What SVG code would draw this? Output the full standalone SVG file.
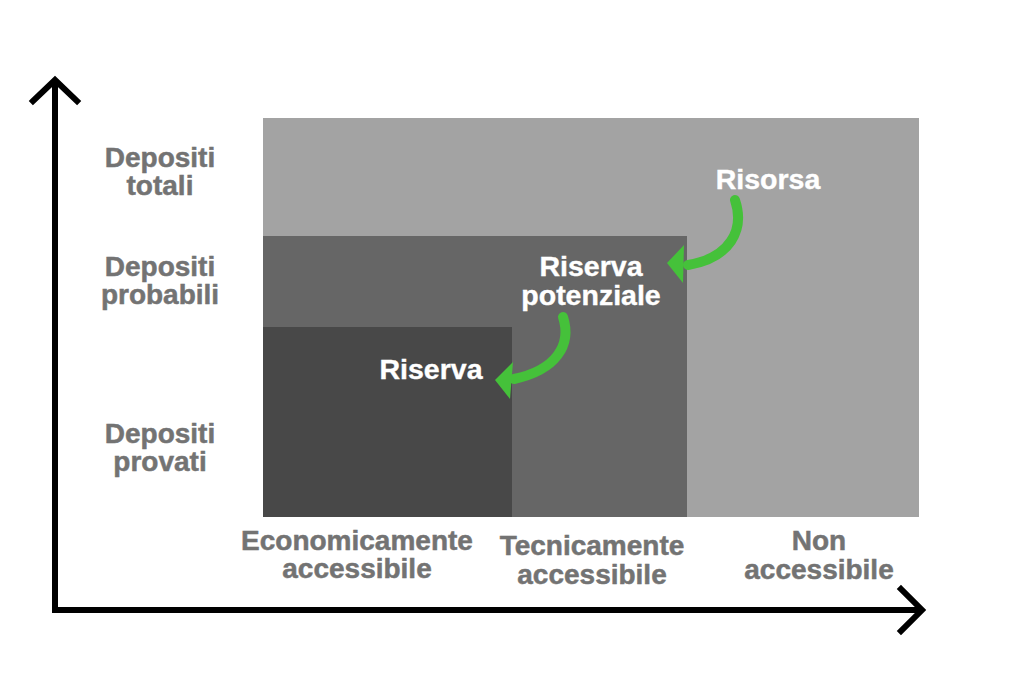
<svg xmlns="http://www.w3.org/2000/svg" width="1024" height="683" viewBox="0 0 1024 683">
<style>
.lbl{font-family:"Liberation Sans",Arial,sans-serif;font-weight:bold;font-size:28px;fill:#737373;stroke:#737373;stroke-width:0.5;text-anchor:middle}
.wl{font-family:"Liberation Sans",Arial,sans-serif;font-weight:bold;font-size:28.5px;fill:#ffffff;stroke:#ffffff;stroke-width:0.4;text-anchor:middle}
.axis{fill:none;stroke:#000;stroke-width:6;stroke-linecap:square}
.garc{fill:none;stroke:#45c13a;stroke-width:10;stroke-linecap:round}
.ghead{fill:#45c13a}
</style>
<rect width="1024" height="683" fill="#ffffff"/>
<g id="area-risorsa"><rect x="263" y="118" width="656" height="399" fill="#a3a3a3"/></g>
<g id="area-riserva-potenziale"><rect x="263" y="236" width="424" height="281" fill="#666666"/></g>
<g id="area-riserva"><rect x="263" y="327" width="249" height="190" fill="#484848"/></g>
<g id="axes">
<path class="axis" d="M55 82 V610 H920"/>
<path class="axis" d="M33 101 L55 80 L77 101"/>
<path class="axis" d="M901 589 L922 610 L901 631"/>
</g>
<g id="y-labels">
<text class="lbl" x="160" y="167">Depositi</text>
<text class="lbl" x="160" y="195">totali</text>
<text class="lbl" x="160" y="276">Depositi</text>
<text class="lbl" x="160" y="304">probabili</text>
<text class="lbl" x="160" y="443">Depositi</text>
<text class="lbl" x="160" y="471">provati</text>
</g>
<g id="x-labels">
<text class="lbl" x="357" y="550">Economicamente</text>
<text class="lbl" x="357" y="578">accessibile</text>
<text class="lbl" x="592" y="555">Tecnicamente</text>
<text class="lbl" x="592" y="584">accessibile</text>
<text class="lbl" x="819" y="550">Non</text>
<text class="lbl" x="819" y="579">accessibile</text>
</g>
<g id="node-risorsa"><text class="wl" x="768" y="189">Risorsa</text></g>
<g id="node-riserva-potenziale">
<text class="wl" x="591" y="276">Riserva</text>
<text class="wl" x="591" y="305">potenziale</text>
</g>
<g id="node-riserva"><text class="wl" x="431" y="379">Riserva</text></g>
<g id="connectors">
<path class="garc" d="M735 200 C745 230 730 258 688 265"/>
<polygon class="ghead" points="667,263 684,245 683,283"/>
<path class="garc" d="M563 317 C572 345 556 370 514 379"/>
<polygon class="ghead" points="495,380 513,362 510,399"/>
</g>
</svg>
